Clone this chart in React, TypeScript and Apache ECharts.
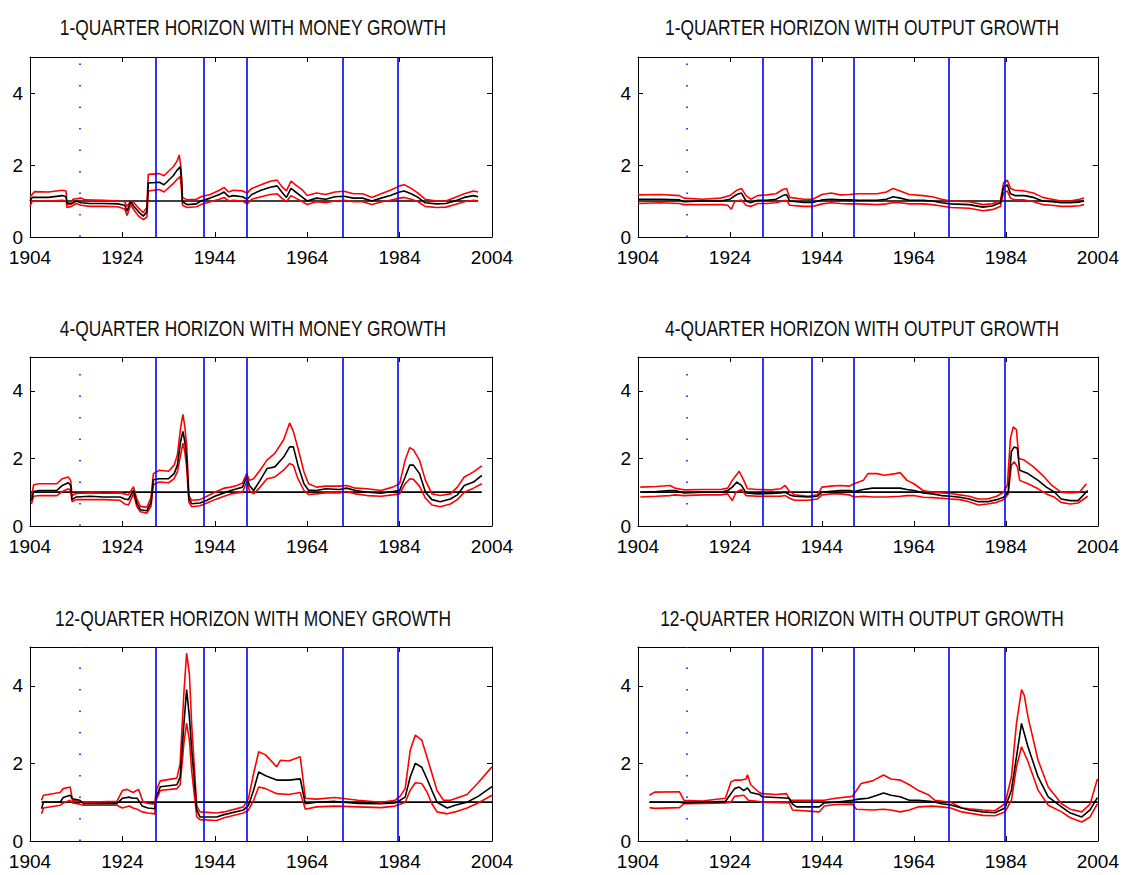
import React, { useEffect, useRef } from "react";
import * as echarts from "echarts";

const FONT = "'Liberation Sans', Arial, Helvetica, sans-serif";

const titles = [
  "1-QUARTER HORIZON WITH MONEY GROWTH",
  "1-QUARTER HORIZON WITH OUTPUT GROWTH",
  "4-QUARTER HORIZON WITH MONEY GROWTH",
  "4-QUARTER HORIZON WITH OUTPUT GROWTH",
  "12-QUARTER HORIZON WITH MONEY GROWTH",
  "12-QUARTER HORIZON WITH OUTPUT GROWTH",
];

const xTicks = [1904, 1924, 1944, 1964, 1984, 2004];
const yTicks = [0, 2, 4];
const breakYears = [1931.2, 1941.7, 1951.0, 1971.6, 1983.7];
const dottedYear = 1914.7;

// 1-quarter, money growth
const m1Upper = [[1904,1.12],[1905,1.26],[1908,1.25],[1911,1.3],[1911.8,1.28],[1912,0.9],[1912.8,0.92],[1913.3,1.05],[1915,1.08],[1916,1.03],[1920,1.02],[1923,1.0],[1924.5,0.98],[1925,0.85],[1925.8,1.0],[1926.5,0.95],[1927.5,0.8],[1928.5,0.68],[1929.3,0.82],[1929.6,1.74],[1932,1.76],[1933,1.7],[1935,1.95],[1935.8,2.1],[1936.3,2.28],[1936.7,1.9],[1937,1.1],[1938,1.03],[1940,1.05],[1941,1.12],[1943,1.18],[1945,1.3],[1946,1.38],[1947,1.25],[1948,1.3],[1950,1.28],[1951,1.22],[1952,1.35],[1954,1.45],[1956,1.55],[1957.5,1.58],[1958.5,1.4],[1959.5,1.28],[1960.5,1.55],[1961.5,1.45],[1963,1.3],[1964,1.15],[1966,1.22],[1968,1.18],[1970,1.25],[1972,1.27],[1974,1.2],[1976,1.2],[1978,1.1],[1980,1.2],[1982,1.3],[1984,1.42],[1985,1.45],[1986.5,1.35],[1988,1.22],[1989.5,1.05],[1992,1.0],[1994,1.0],[1996,1.1],[1998,1.2],[2000,1.28],[2001,1.25]];
const m1Center = [[1904,1.0],[1904.5,1.1],[1908,1.1],[1911,1.15],[1911.8,1.12],[1912,0.95],[1913,0.92],[1914,1.0],[1915,0.95],[1917,0.93],[1920,0.93],[1923,0.92],[1924.5,0.88],[1925,0.72],[1925.8,0.98],[1926.5,0.85],[1927.5,0.7],[1928.5,0.58],[1929.3,0.7],[1929.6,1.5],[1932,1.52],[1933,1.45],[1935,1.7],[1935.8,1.85],[1936.5,1.95],[1936.8,1.6],[1937,0.98],[1938,0.9],[1940,0.92],[1941,1.0],[1943,1.08],[1945,1.18],[1946,1.25],[1947,1.12],[1948,1.15],[1950,1.12],[1951,1.05],[1952,1.18],[1954,1.3],[1956,1.38],[1957.5,1.42],[1958.5,1.25],[1959.5,1.1],[1960.5,1.35],[1961.5,1.25],[1963,1.1],[1964,1.0],[1966,1.08],[1968,1.05],[1970,1.12],[1972,1.13],[1974,1.08],[1976,1.08],[1978,1.0],[1980,1.08],[1982,1.15],[1984,1.25],[1985,1.28],[1986.5,1.2],[1988,1.1],[1989.5,0.95],[1992,0.92],[1994,0.93],[1996,1.0],[1998,1.1],[2000,1.15],[2001,1.12]];
const m1Lower = [[1904,0.85],[1904.5,1.0],[1908,1.0],[1911,1.02],[1911.8,1.0],[1912,0.82],[1913,0.85],[1914,0.93],[1915,0.88],[1917,0.85],[1920,0.85],[1923,0.84],[1924.5,0.78],[1925,0.6],[1925.8,0.9],[1926.5,0.75],[1927.5,0.58],[1928.5,0.48],[1929.3,0.55],[1929.6,1.28],[1932,1.32],[1933,1.25],[1935,1.48],[1935.8,1.6],[1936.5,1.68],[1936.8,1.3],[1937,0.88],[1938,0.82],[1940,0.84],[1941,0.9],[1943,0.98],[1945,1.05],[1946,1.1],[1947,1.0],[1948,1.02],[1950,1.0],[1951,0.92],[1952,1.05],[1954,1.12],[1956,1.18],[1957.5,1.2],[1958.5,1.08],[1959.5,0.98],[1960.5,1.15],[1961.5,1.08],[1963,0.98],[1964,0.9],[1966,0.98],[1968,0.95],[1970,1.0],[1972,1.02],[1974,0.98],[1976,0.98],[1978,0.9],[1980,0.97],[1982,1.02],[1984,1.08],[1985,1.1],[1986.5,1.05],[1988,0.98],[1989.5,0.85],[1992,0.82],[1994,0.83],[1996,0.9],[1998,0.98],[2000,1.02],[2001,1.0]];
const m1Base = [[1904,1],[2001,1]];

// 1-quarter, output growth
const o1Upper = [[1904,1.17],[1909,1.18],[1913,1.15],[1914,1.08],[1918,1.05],[1922,1.08],[1924,1.15],[1925.5,1.3],[1926.5,1.35],[1927.5,1.15],[1928.5,1.05],[1930,1.15],[1932,1.17],[1934,1.2],[1935.5,1.32],[1936.3,1.35],[1937,1.1],[1940,1.05],[1942,1.05],[1944,1.18],[1946,1.22],[1948,1.17],[1950,1.18],[1952,1.2],[1956,1.2],[1958,1.25],[1959.5,1.35],[1961,1.28],[1963,1.18],[1966,1.15],[1968,1.12],[1970,1.05],[1972,1.0],[1976,0.98],[1979,0.9],[1981,0.92],[1982.8,1.0],[1983.5,1.5],[1984.3,1.58],[1985,1.35],[1986,1.3],[1988,1.28],[1990,1.22],[1992,1.1],[1994,1.05],[1996,1.0],[1998,1.0],[2000,1.05],[2001,1.08]];
const o1Center = [[1904,1.05],[1909,1.05],[1913,1.03],[1914,0.98],[1918,1.0],[1922,1.0],[1924,1.05],[1925.5,1.18],[1926.5,1.22],[1927.5,1.0],[1928.5,0.95],[1930,1.02],[1932,1.02],[1934,1.05],[1935.5,1.15],[1936.3,1.18],[1937,1.0],[1940,0.96],[1942,0.96],[1944,1.03],[1946,1.05],[1948,1.03],[1950,1.03],[1952,1.02],[1956,1.02],[1958,1.05],[1959.5,1.12],[1961,1.08],[1963,1.02],[1966,1.02],[1968,1.0],[1970,0.95],[1972,0.92],[1976,0.9],[1979,0.83],[1981,0.86],[1982.8,0.95],[1983.5,1.38],[1984.3,1.45],[1985,1.2],[1986,1.15],[1988,1.15],[1990,1.1],[1992,1.0],[1994,0.98],[1996,0.95],[1998,0.95],[2000,0.97],[2001,1.0]];
const o1Lower = [[1904,0.93],[1909,0.95],[1913,0.93],[1914,0.9],[1918,0.9],[1922,0.9],[1923.5,0.88],[1924.3,0.77],[1925,0.98],[1926.5,1.03],[1927.5,0.88],[1928.5,0.85],[1930,0.93],[1932,0.93],[1934,0.95],[1935.5,1.0],[1936.3,1.02],[1937,0.88],[1940,0.85],[1942,0.85],[1944,0.92],[1946,0.95],[1948,0.93],[1950,0.92],[1952,0.92],[1956,0.9],[1958,0.92],[1959.5,0.96],[1961,0.95],[1963,0.92],[1966,0.92],[1968,0.9],[1970,0.86],[1972,0.82],[1976,0.8],[1979,0.73],[1981,0.76],[1982.8,0.85],[1983.5,1.22],[1984.3,1.28],[1985,1.08],[1986,1.03],[1988,1.03],[1990,0.98],[1992,0.9],[1994,0.88],[1996,0.85],[1998,0.85],[2000,0.87],[2001,0.9]];
const o1Base = [[1904,1],[2001,1]];

// 4-quarter, money growth
const m4Upper = [[1904.3,0.85],[1904.8,1.22],[1906,1.25],[1909.8,1.25],[1911,1.4],[1912.3,1.45],[1912.8,1.35],[1913.1,0.9],[1914,0.96],[1917,0.98],[1920,0.97],[1923.5,0.98],[1924.5,0.95],[1925.3,0.92],[1926.4,1.16],[1927.1,0.8],[1927.9,0.58],[1929.3,0.55],[1930.2,0.85],[1930.7,1.55],[1932,1.65],[1934,1.62],[1935.2,1.8],[1935.9,2.1],[1936.6,2.9],[1937.1,3.3],[1937.5,2.95],[1937.9,2.4],[1938.4,0.9],[1939,0.76],[1940.8,0.78],[1942.3,0.88],[1944,1.0],[1946,1.12],[1947.5,1.15],[1948.8,1.2],[1950,1.27],[1950.9,1.55],[1951.5,1.35],[1952.4,1.4],[1953.8,1.65],[1955.3,1.95],[1957,2.15],[1958.9,2.55],[1960.2,3.05],[1961,2.8],[1962,2.3],[1963.3,1.6],[1964.3,1.25],[1966,1.15],[1968,1.18],[1971,1.18],[1972.5,1.2],[1974.5,1.12],[1977,1.1],[1980,1.05],[1982.5,1.15],[1984,1.25],[1985.2,1.95],[1986.2,2.32],[1987,2.25],[1988.3,1.95],[1989.6,1.35],[1991,0.95],[1992.8,0.9],[1995,0.95],[1996.5,1.15],[1998,1.45],[2000,1.6],[2001.8,1.78]];
const m4Center = [[1904.3,0.75],[1904.8,1.02],[1906,1.05],[1909.8,1.05],[1911,1.2],[1912.3,1.28],[1912.8,1.2],[1913.1,0.78],[1914,0.86],[1917,0.88],[1920,0.86],[1923.5,0.86],[1924.5,0.8],[1925.3,0.78],[1926.4,1.05],[1927.1,0.68],[1927.9,0.48],[1929.3,0.45],[1930.2,0.7],[1930.7,1.37],[1932,1.4],[1934,1.4],[1935.2,1.55],[1935.9,1.8],[1936.6,2.5],[1937.1,2.8],[1937.5,2.5],[1937.9,2.05],[1938.4,0.8],[1939,0.66],[1940.8,0.68],[1942.3,0.76],[1944,0.88],[1946,0.98],[1947.5,1.05],[1948.8,1.1],[1950,1.15],[1950.9,1.45],[1951.5,1.2],[1952.4,1.05],[1953.8,1.35],[1955.3,1.7],[1957,1.75],[1958.9,2.04],[1960.2,2.34],[1961,2.34],[1962,1.8],[1963.3,1.25],[1964.3,1.06],[1966,1.05],[1968,1.1],[1971,1.08],[1972.5,1.12],[1974.5,1.05],[1977,1.0],[1980,0.97],[1982.5,1.02],[1984,1.05],[1985.2,1.45],[1986.2,1.8],[1987,1.8],[1988.3,1.55],[1989.6,1.0],[1991,0.78],[1992.8,0.72],[1995,0.8],[1996.5,0.92],[1998,1.2],[2000,1.3],[2001.8,1.5]];
const m4Lower = [[1904.3,0.65],[1904.8,0.88],[1906,0.9],[1909.8,0.9],[1911,1.02],[1912.3,1.1],[1912.8,1.05],[1913.1,0.72],[1914,0.78],[1917,0.78],[1920,0.78],[1923.5,0.76],[1924.5,0.65],[1925.3,0.62],[1926.4,0.95],[1927.1,0.58],[1927.9,0.42],[1929.3,0.38],[1930.2,0.58],[1930.7,1.22],[1932,1.3],[1934,1.28],[1935.2,1.4],[1935.9,1.6],[1936.6,2.1],[1937.1,2.45],[1937.5,2.2],[1937.9,1.75],[1938.4,0.7],[1939,0.57],[1940.8,0.6],[1942.3,0.68],[1944,0.78],[1946,0.88],[1947.5,0.95],[1948.8,0.98],[1950,1.0],[1950.9,1.3],[1951.5,1.05],[1952.4,0.95],[1953.8,1.15],[1955.3,1.4],[1957,1.45],[1958.9,1.65],[1960.2,1.85],[1961,1.8],[1962,1.4],[1963.3,1.05],[1964.3,0.93],[1966,0.95],[1968,0.98],[1971,0.98],[1972.5,1.02],[1974.5,0.95],[1977,0.9],[1980,0.88],[1982.5,0.92],[1984,0.95],[1985.2,1.25],[1986.2,1.4],[1987,1.38],[1988.3,1.18],[1989.6,0.82],[1991,0.62],[1992.8,0.57],[1995,0.65],[1996.5,0.78],[1998,1.0],[2000,1.12],[2001.8,1.25]];
const m4Base = [[1904,1],[2001.8,1]];

// 4-quarter, output growth
const o4Upper = [[1904.5,1.15],[1908,1.17],[1911,1.2],[1912,1.12],[1914,1.07],[1918,1.08],[1922,1.08],[1923.5,1.12],[1924.5,1.35],[1926,1.62],[1927,1.35],[1927.8,1.1],[1930,1.08],[1933,1.07],[1935,1.1],[1936,1.2],[1936.8,1.05],[1938,0.92],[1941,0.88],[1943,0.92],[1944,1.15],[1946,1.18],[1948,1.2],[1950,1.18],[1951,1.25],[1953,1.35],[1954,1.55],[1956,1.55],[1957.5,1.5],[1960,1.55],[1961,1.58],[1962.5,1.35],[1964,1.25],[1966,1.05],[1968,1.0],[1970,0.98],[1972,0.96],[1974,0.92],[1976,0.88],[1978,0.8],[1980,0.8],[1982,0.88],[1983.5,1.0],[1984.3,1.2],[1985,2.6],[1985.6,2.93],[1986.3,2.85],[1986.8,2.0],[1988,1.95],[1990,1.75],[1992,1.5],[1994,1.2],[1996,1.0],[1998,0.98],[2000,1.0],[2001.5,1.25]];
const o4Center = [[1904.5,1.0],[1908,1.02],[1911,1.05],[1912,1.05],[1914,0.98],[1918,1.0],[1922,1.0],[1923.5,1.05],[1924.5,1.15],[1925.5,1.3],[1926.5,1.2],[1927.5,0.98],[1930,0.95],[1933,0.96],[1935,0.98],[1936,1.0],[1937,0.92],[1938,0.88],[1941,0.86],[1943,0.88],[1944,1.0],[1946,1.03],[1948,1.05],[1950,1.05],[1951,1.02],[1953,1.08],[1955,1.12],[1958,1.12],[1961,1.12],[1962.5,1.08],[1964,1.05],[1966,0.98],[1968,0.95],[1970,0.9],[1972,0.88],[1974,0.85],[1976,0.8],[1978,0.72],[1980,0.72],[1982,0.78],[1983.5,0.85],[1984.5,1.0],[1985.2,2.2],[1985.8,2.34],[1986.5,2.3],[1987,1.65],[1988.8,1.55],[1991,1.35],[1992.8,1.15],[1994.6,1.0],[1996,0.8],[1998,0.75],[1999.7,0.75],[2001.8,1.05]];
const o4Lower = [[1904.5,0.86],[1908,0.88],[1911,0.9],[1912,0.92],[1914,0.9],[1918,0.92],[1922,0.92],[1923.5,0.95],[1924.5,0.75],[1925.3,1.0],[1926.5,1.08],[1927.5,0.9],[1930,0.88],[1933,0.88],[1935,0.88],[1936,0.9],[1937,0.82],[1938,0.76],[1941,0.76],[1943,0.8],[1944,0.92],[1946,0.95],[1948,0.95],[1950,0.92],[1951,0.86],[1953,0.88],[1955,0.86],[1958,0.86],[1961,0.88],[1962.5,0.9],[1964,0.9],[1966,0.85],[1968,0.84],[1970,0.82],[1972,0.8],[1974,0.78],[1976,0.72],[1978,0.62],[1980,0.65],[1982,0.7],[1983.5,0.78],[1984.5,0.95],[1985.2,1.8],[1985.8,1.9],[1986.5,1.75],[1987,1.35],[1988.8,1.25],[1991,1.1],[1992.8,0.95],[1994.6,0.85],[1996,0.7],[1998,0.65],[1999.7,0.68],[2001.8,0.88]];
const o4Base = [[1904.5,1],[2001.8,1]];

// 12-quarter, money growth
const m12Upper = [[1906.5,1.05],[1906.9,1.18],[1910.5,1.25],[1911.2,1.35],[1912.7,1.39],[1913.2,1.05],[1914.8,1.02],[1915.6,1.0],[1922.8,1.02],[1924,1.3],[1925,1.33],[1926.3,1.25],[1927.5,1.33],[1928.5,1.0],[1929.5,0.97],[1931,0.95],[1931.3,1.3],[1932.2,1.55],[1935.8,1.62],[1936.5,2.0],[1937.3,3.8],[1937.9,4.84],[1938.5,4.3],[1939,3.0],[1940.1,0.9],[1940.8,0.75],[1944.4,0.72],[1946,0.75],[1950.2,0.88],[1951.3,1.1],[1952.4,1.74],[1953.5,2.3],[1955,2.22],[1957.4,1.91],[1958.2,2.08],[1960,2.06],[1962.5,2.17],[1963.6,1.1],[1966,1.08],[1970,1.12],[1975,1.05],[1980,1.0],[1983,1.05],[1984.1,1.15],[1985.2,1.35],[1986.3,2.34],[1987.4,2.73],[1988.8,2.6],[1989.9,2.17],[1991,1.74],[1992.1,1.3],[1993.5,1.05],[1995,1.05],[1998.6,1.2],[2001,1.5],[2004,1.91]];
const m12Center = [[1906.5,0.83],[1906.9,1.0],[1910.5,1.0],[1911.2,1.12],[1912.7,1.18],[1913.2,1.09],[1914.8,1.05],[1915.6,0.96],[1922.8,0.96],[1924,1.1],[1925.5,1.13],[1926.3,1.1],[1927.2,1.1],[1928.3,0.9],[1929.5,0.85],[1931,0.83],[1931.3,1.13],[1932.2,1.4],[1935.8,1.45],[1936.5,1.65],[1937.3,3.0],[1937.9,3.9],[1938.5,3.2],[1939,2.35],[1940.1,0.8],[1940.8,0.62],[1944.4,0.62],[1946,0.68],[1950.2,0.8],[1951.3,0.92],[1952.4,1.31],[1953.5,1.78],[1955,1.68],[1957.4,1.57],[1960,1.57],[1962.5,1.6],[1963.6,0.96],[1966,1.0],[1970,1.02],[1975,0.97],[1980,0.96],[1983,0.98],[1984.1,1.05],[1985.2,1.13],[1986.3,1.65],[1987.4,2.0],[1988.8,1.9],[1989.9,1.61],[1991,1.3],[1992.1,1.0],[1994.3,0.85],[1996,0.92],[1998.6,1.0],[2001,1.15],[2004,1.4]];
const m12Lower = [[1906.5,0.7],[1906.9,0.85],[1910.5,0.92],[1911.2,0.98],[1912.7,1.05],[1913.2,0.98],[1914.8,0.95],[1915.6,0.92],[1922.8,0.92],[1924,0.85],[1925.5,0.9],[1926.3,0.85],[1927.2,0.82],[1928.3,0.75],[1929.5,0.72],[1931,0.7],[1931.3,1.05],[1932.2,1.3],[1935.8,1.35],[1936.5,1.45],[1937.3,2.5],[1937.9,3.04],[1938.5,2.6],[1939,1.8],[1940.1,0.62],[1940.8,0.55],[1944.4,0.53],[1946,0.6],[1950.2,0.72],[1951.3,0.8],[1952.4,1.05],[1953.5,1.39],[1955,1.35],[1957.4,1.22],[1960,1.2],[1962.5,1.25],[1963.6,0.82],[1966,0.88],[1970,0.9],[1975,0.88],[1980,0.86],[1983,0.9],[1984.1,0.95],[1985.2,1.0],[1986.3,1.31],[1987.4,1.5],[1988.8,1.48],[1989.9,1.27],[1991,0.96],[1992.1,0.75],[1994.3,0.7],[1996,0.75],[1998.6,0.85],[2001,0.98],[2004,1.18]];
const m12Base = [[1906.5,1],[2004,1]];

// 12-quarter, output growth
const o12Upper = [[1906.5,1.18],[1907.6,1.26],[1913,1.27],[1914,1.05],[1918,1.03],[1923,1.1],[1924.2,1.52],[1925,1.57],[1926.5,1.57],[1927.5,1.6],[1927.8,1.71],[1928.5,1.45],[1930.4,1.25],[1931,1.22],[1934,1.2],[1936.3,1.22],[1937,1.05],[1938.5,1.05],[1943.4,1.05],[1944.5,1.05],[1947,1.1],[1950.6,1.15],[1951.5,1.3],[1952.5,1.48],[1955,1.55],[1957.4,1.7],[1959,1.6],[1961,1.57],[1963,1.45],[1965,1.3],[1967,1.2],[1968.6,1.05],[1972,1.0],[1974.4,0.85],[1976,0.83],[1979,0.8],[1981.6,0.78],[1983.8,0.96],[1985.2,1.65],[1986.3,3.03],[1987.4,3.9],[1988,3.75],[1988.8,3.2],[1991,2.08],[1993.2,1.39],[1996.1,0.96],[1998,0.82],[2000.5,0.75],[2002.3,0.95],[2003.9,1.6]];
const o12Center = [[1906.5,1.0],[1910,1.0],[1913,1.0],[1914,0.98],[1918,1.0],[1923,1.02],[1924.2,1.22],[1925,1.35],[1926,1.39],[1927,1.3],[1927.8,1.37],[1928.5,1.25],[1930.4,1.2],[1931,1.14],[1934,1.12],[1936.9,1.1],[1937.6,0.95],[1938.5,0.88],[1943.4,0.88],[1944.5,0.98],[1947,1.0],[1950.6,1.05],[1952,1.08],[1954,1.1],[1956,1.18],[1957.4,1.24],[1959,1.18],[1961,1.14],[1963,1.05],[1965,1.05],[1968,1.02],[1970,0.96],[1972,0.93],[1974.4,0.85],[1976,0.8],[1979,0.75],[1981.6,0.73],[1983.8,0.85],[1985.2,1.31],[1986.3,2.17],[1987.4,3.03],[1988.8,2.43],[1991,1.65],[1993.2,1.14],[1996.1,0.88],[1998,0.72],[2000.5,0.62],[2002.3,0.8],[2003.9,1.12]];
const o12Lower = [[1906.5,0.86],[1907.6,0.84],[1913,0.86],[1914,0.96],[1918,0.97],[1923,0.98],[1924.2,1.0],[1925,1.15],[1927,1.18],[1928,1.05],[1930.4,1.02],[1931,1.0],[1936.9,0.98],[1937.6,0.8],[1943.4,0.75],[1944.5,0.9],[1947,0.94],[1950.6,0.95],[1951.5,0.82],[1955,0.8],[1957.4,0.82],[1959,0.8],[1961,0.75],[1963,0.8],[1965,0.88],[1968,0.9],[1970,0.88],[1972,0.85],[1974.4,0.75],[1977,0.7],[1979,0.66],[1981.6,0.65],[1983.8,0.75],[1985.2,1.05],[1986.3,1.91],[1987.4,2.43],[1988.8,2.05],[1991,1.31],[1993.2,0.92],[1996.1,0.75],[1998,0.6],[2000.5,0.49],[2002.3,0.62],[2003.9,0.96]];
const o12Base = [[1906.5,1],[2004,1]];

const panelData = [
  { upper: m1Upper, center: m1Center, lower: m1Lower, base: m1Base },
  { upper: o1Upper, center: o1Center, lower: o1Lower, base: o1Base },
  { upper: m4Upper, center: m4Center, lower: m4Lower, base: m4Base },
  { upper: o4Upper, center: o4Center, lower: o4Lower, base: o4Base },
  { upper: m12Upper, center: m12Center, lower: m12Lower, base: m12Base },
  { upper: o12Upper, center: o12Center, lower: o12Lower, base: o12Base },
];

// layout (pixels)
const colLeft = [30, 638];
const colWidth = 462;
const rowTop = [57, 357, 647];
const rowHeight = [180, 169, 194];
const titleX = [253, 862];
const titleY = [27, 328, 618];

export default function App() {
  const ref = useRef<HTMLDivElement>(null);

  useEffect(() => {
    if (!ref.current) return;
    const chart = echarts.init(ref.current, null, { renderer: "svg" });

    const grids: any[] = [];
    const xAxes: any[] = [];
    const yAxes: any[] = [];
    const series: any[] = [];
    const graphics: any[] = [];

    panelData.forEach((p, i) => {
      const r = Math.floor(i / 2);
      const c = i % 2;
      grids.push({
        left: colLeft[c],
        top: rowTop[r],
        width: colWidth,
        height: rowHeight[r],
        containLabel: false,
      });
      graphics.push({
        type: "text",
        x: titleX[c],
        y: titleY[r],
        scaleX: 0.79,
        scaleY: 1,
        style: {
          text: titles[i],
          fontFamily: FONT,
          fontSize: 22,
          fill: "#111",
          align: "center",
          verticalAlign: "middle",
          textAlign: "center",
          textVerticalAlign: "middle",
        },
      });
    });

    const axisLine = { show: true, onZero: false, lineStyle: { color: "#000", width: 1 } };
    // bottom x axes
    panelData.forEach((_, i) => {
      xAxes.push({
        type: "value",
        gridIndex: i,
        position: "bottom",
        min: 1904,
        max: 2004,
        axisLine,
        axisTick: { show: true, inside: true, length: 5, customValues: xTicks, lineStyle: { color: "#000" } },
        axisLabel: {
          show: true,
          customValues: xTicks,
          color: "#000",
          fontFamily: FONT,
          fontSize: 19,
          lineHeight: 16,
          margin: 12,
          formatter: (v: number) => String(v),
        },
        splitLine: { show: false },
      });
    });
    // top x axes
    panelData.forEach((_, i) => {
      xAxes.push({
        type: "value",
        gridIndex: i,
        position: "top",
        min: 1904,
        max: 2004,
        axisLine,
        axisTick: { show: true, inside: true, length: 5, customValues: xTicks, lineStyle: { color: "#000" } },
        axisLabel: { show: false },
        splitLine: { show: false },
      });
    });
    // left y axes
    panelData.forEach((_, i) => {
      yAxes.push({
        type: "value",
        gridIndex: i,
        position: "left",
        min: 0,
        max: 5,
        axisLine,
        axisTick: { show: true, inside: true, length: 5, customValues: yTicks, lineStyle: { color: "#000" } },
        axisLabel: {
          show: true,
          customValues: yTicks,
          color: "#000",
          fontFamily: FONT,
          fontSize: 19,
          lineHeight: 15,
          margin: 7,
          verticalAlign: "middle",
          padding: [0, 0, 7, 0],
          formatter: (v: number) => String(v),
        },
        splitLine: { show: false },
      });
    });
    // right y axes
    panelData.forEach((_, i) => {
      yAxes.push({
        type: "value",
        gridIndex: i,
        position: "right",
        min: 0,
        max: 5,
        axisLine,
        axisTick: { show: true, inside: true, length: 5, customValues: yTicks, lineStyle: { color: "#000" } },
        axisLabel: { show: false },
        splitLine: { show: false },
      });
    });

    const lineSeries = (data: number[][], i: number, color: string, width: number, name: string) => ({
      type: "line",
      name,
      xAxisIndex: i,
      yAxisIndex: i,
      data,
      showSymbol: false,
      symbol: "none",
      silent: true,
      lineStyle: { color, width },
      z: 3,
    });

    panelData.forEach((p, i) => {
      series.push({
        ...lineSeries(p.base, i, "#000", 1.7, "baseline"),
        z: 2,
        markLine: {
          silent: true,
          symbol: ["none", "none"],
          label: { show: false },
          animation: false,
          data: [
            ...breakYears.map((x) => ({ xAxis: x, lineStyle: { color: "#0000ff", width: 1.6, type: "solid" } })),
            { xAxis: dottedYear, lineStyle: { color: "#3030ff", width: 1.8, type: [1.5, 20] } },
          ],
        },
      });
      series.push(lineSeries(p.upper, i, "#ff0000", 1.6, "upper"));
      series.push(lineSeries(p.lower, i, "#ff0000", 1.6, "lower"));
      series.push(lineSeries(p.center, i, "#000", 1.6, "estimate"));
    });

    chart.setOption({
      animation: false,
      backgroundColor: "#fff",
      grid: grids,
      xAxis: xAxes,
      yAxis: yAxes,
      series,
      graphic: graphics,
    });

    return () => chart.dispose();
  }, []);

  return (
    <div
      ref={ref}
      style={{ position: "absolute", left: 0, top: 0, width: 1122, height: 875, background: "#fff" }}
    />
  );
}
